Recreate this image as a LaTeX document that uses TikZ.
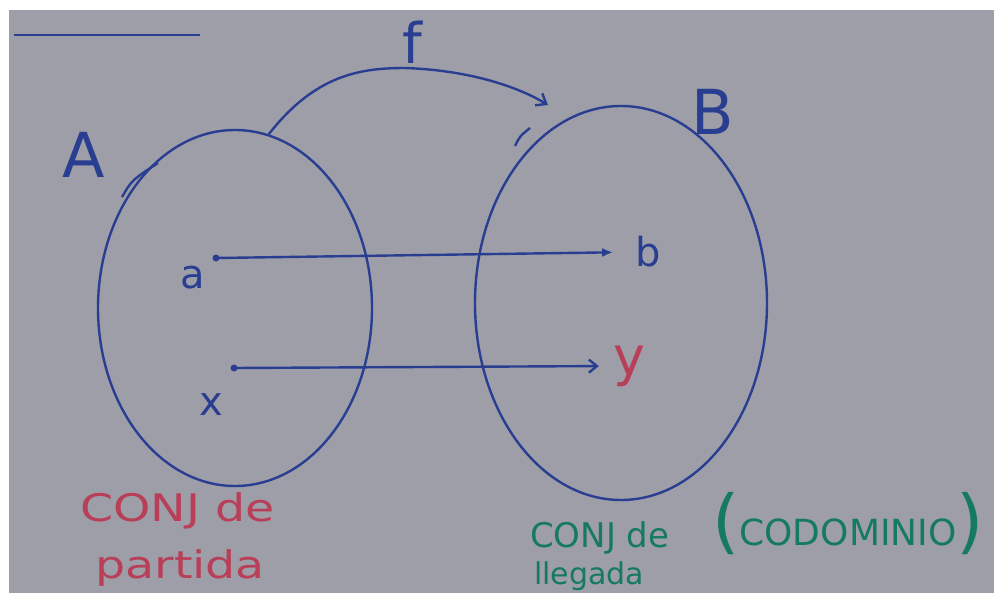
\documentclass[tikz,border=0pt]{standalone}
\usepackage{fontspec}
\setmainfont{DejaVu Sans}
\usetikzlibrary{arrows.meta,shapes.geometric}
\definecolor{board}{RGB}{157,158,168}
\definecolor{ink}{RGB}{42,62,145}
\definecolor{redpen}{RGB}{185,62,88}
\definecolor{greenpen}{RGB}{22,122,98}
\tikzset{
  pen/.style={draw=ink, line width=2.4pt},
  conjunto/.style={ellipse, draw=ink, line width=2.4pt, inner sep=0pt},
  elemento/.style={text=ink, inner sep=0pt, font=\fontsize{40}{40}\selectfont},
  nota/.style={inner sep=0pt, font=\fontsize{34}{38}\selectfont},
}

\begin{document}
\begin{tikzpicture}[x=1pt,y=-1pt]
    \fill [white] (0,0) rectangle (994,602);
    \useasboundingbox (0,0) rectangle (994,602);
    \fill [board] (9,10) rectangle (994,593);
    \begin{scope}
        \clip (9,10) rectangle (994,593);
        \draw [pen] (14,35) -- (200,35);
        % the two sets
        \node [conjunto, minimum width=274pt, minimum height=356pt] (setA) at (235,308) {};
        \node [conjunto, minimum width=292pt, minimum height=394pt] (setB) at (621,303) {};
        \draw [pen] (122,197) .. controls (132,180) .. (158,163);
        \draw [pen] (515,146) .. controls (520,136) .. (530,128);
        \node [elemento, font=\fontsize{62}{62}\selectfont] (labA) at (84,155) {A};
        \node [elemento, font=\fontsize{62}{62}\selectfont] (labB) at (713,112) {B};
        % f
        \coordinate (fend) at (548,105);
        \node [elemento, font=\fontsize{56}{56}\selectfont] (labf) at (412,42) {f};
        \draw [pen, -{Straight Barb[length=9pt,width=14pt]}] (setA.79) .. controls (315,75) and (360,68) .. (405,68)
            .. controls (465,70) and (515,85) .. (fend);
        % elements
        \node [elemento] (a) at (193,278) {a};
        \node [elemento] (b) at (648,252) {b};
        \node [elemento] (x) at (211,405) {x};
        \node [elemento, text=redpen, font=\fontsize{54}{54}\selectfont] (y) at (629,366) {y};
        \coordinate (adot) at (216,258);
        \coordinate (xdot) at (234,368);
        \fill [ink] (adot) circle (3.5);
        \fill [ink] (xdot) circle (3.5);
        \draw [pen, -{Latex[length=11pt,width=9pt]}] (adot) -- (b.west) [shorten >=22pt];
        \draw [pen, -{Straight Barb[length=8pt,width=13pt]}] (xdot) -- (y.west) [shorten >=14pt];
        % notes
        \node [nota, text=redpen, anchor=base west, font=\fontsize{38}{40}\selectfont] (partA) at (80,521) {\scalebox{1.25}[1]{CONJ de}};
        \node [nota, text=redpen, anchor=base west, font=\fontsize{38}{40}\selectfont] (partB) at (95,578) {\scalebox{1.25}[1]{partida}};
        \node [nota, text=greenpen, anchor=base west] (llegA) at (530,547) {CONJ de};
        \node [nota, text=greenpen, anchor=base west, font=\fontsize{30}{32}\selectfont] (llegB) at (534,584) {llegada};
        \node [nota, text=greenpen, anchor=base west, font=\fontsize{36}{38}\selectfont] (codom) at (712,545)
            {{\fontsize{70}{70}\selectfont(}CODOMINIO{\fontsize{70}{70}\selectfont)}};
    \end{scope}
\end{tikzpicture}
\end{document}
